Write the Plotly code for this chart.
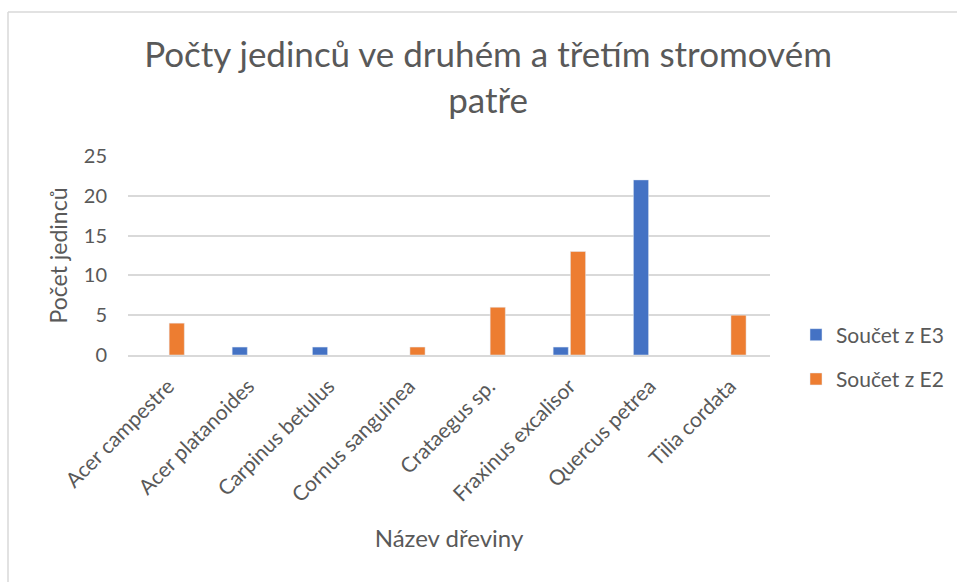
import plotly.graph_objects as go

categories = ["Acer campestre", "Acer platanoides", "Carpinus betulus", "Cornus sanguinea",
              "Crataegus sp.", "Fraxinus excalisor", "Quercus petrea", "Tilia cordata"]
e3_values = [None, 1, 1, None, None, 1, 22, None]
e2_values = [4, None, None, 1, 6, 13, None, 5]

font_family = "Lato, 'Open Sans', sans-serif"
txt = "#595959"

fig = go.Figure()
fig.add_trace(go.Bar(x=categories, y=e3_values, name="Součet z E3", marker_color="#4472C4",
                     legendgroup="a"))
fig.add_trace(go.Bar(x=categories, y=e2_values, name="Součet z E2", marker_color="#ED7D31",
                     legendgroup="b"))

L, R, T, B = 128, 187, 156, 227
W, H = 957, 582
pw = W - L - R
ph = H - T - B

def px_x(x):
    return (x - L) / pw

def px_y(y):
    return (H - B - y) / ph

border = dict(color="#D9D9D9", width=1.5)

fig.update_layout(
    width=W, height=H,
    margin=dict(l=L, r=R, t=T, b=B, autoexpand=False),
    paper_bgcolor="white", plot_bgcolor="white",
    font=dict(family=font_family, color=txt, size=20),
    title=dict(text="Počty jedinců ve druhém a třetím stromovém<br>patře",
               x=0.51, xanchor="center", y=1 - 67 / H, yanchor="middle",
               font=dict(size=35, color=txt, family=font_family)),
    barmode="group", bargap=0.57, bargroupgap=0.12,
    xaxis=dict(title=dict(text="Název dřeviny", font=dict(size=24, color=txt), standoff=25),
               tickangle=-45, tickfont=dict(size=21, color=txt), automargin=False,
               ticklabelstandoff=9,
               showline=True, linecolor="#D9D9D9", linewidth=1.5, ticks=""),
    yaxis=dict(title=dict(text="Počet jedinců", font=dict(size=23, color=txt), standoff=9),
               range=[0, 25], dtick=5, tickfont=dict(size=20, color=txt), automargin=False,
               ticklabelstandoff=20,
               showgrid=True, gridcolor="#D9D9D9", gridwidth=1.5, zeroline=False,
               ticks="", ticklen=0),
    legend=dict(x=px_x(796), y=px_y(357), xanchor="left", yanchor="middle",
                font=dict(size=21, color=txt), tracegroupgap=14, traceorder="grouped",
                itemwidth=30),
    shapes=[
        dict(type="line", xref="paper", yref="paper",
             x0=px_x(8), x1=px_x(970), y0=px_y(12), y1=px_y(12), line=border, layer="below"),
        dict(type="line", xref="paper", yref="paper",
             x0=px_x(8), x1=px_x(8), y0=px_y(12), y1=px_y(600), line=border, layer="below"),
    ],
)

fig.write_html("out.html", config={"displayModeBar": False},
               post_script="document.body.style.margin='0';")
